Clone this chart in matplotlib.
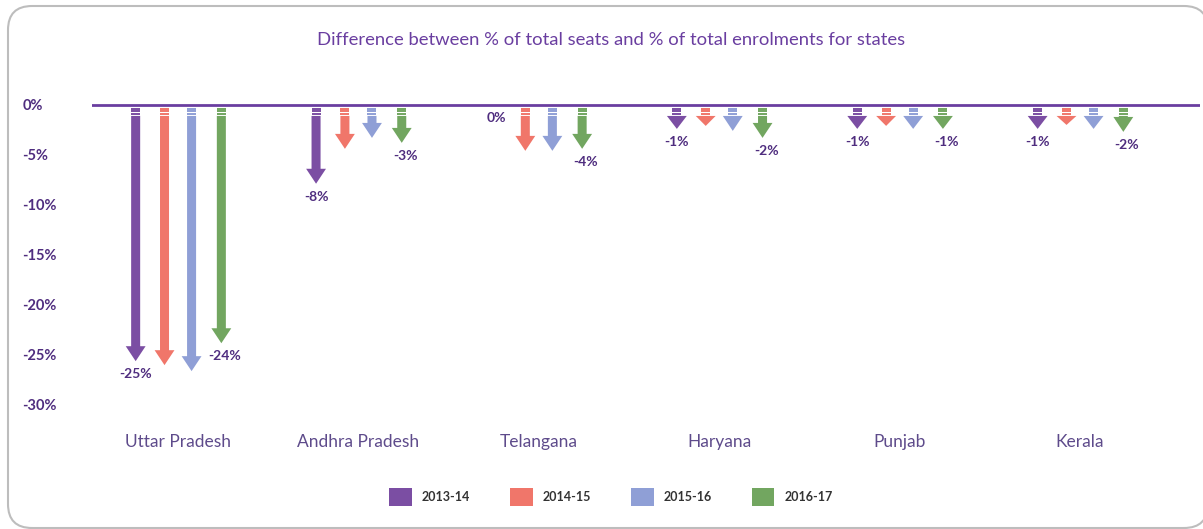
import numpy as np
import matplotlib
matplotlib.use('Agg')
import matplotlib.pyplot as plt
from matplotlib.patches import Patch, FancyBboxPatch

# data (arrow tip positions, in %)
states = ['Uttar Pradesh', 'Andhra Pradesh', 'Telangana', 'Haryana', 'Punjab', 'Kerala']
years = ['2013-14', '2014-15', '2015-16', '2016-17']
v_2013 = [-25.7, -7.9, 0.0, -2.4, -2.4, -2.4]
v_2014 = [-26.1, -4.4, -4.6, -2.1, -2.1, -2.0]
v_2015 = [-26.7, -3.3, -4.6, -2.6, -2.4, -2.4]
v_2016 = [-23.9, -3.8, -4.4, -3.3, -2.4, -2.7]
labels_2013 = ['-25%', '-8%', '0%', '-1%', '-1%', '-1%']
labels_2016 = ['-24%', '-3%', '-4%', '-2%', '-1%', '-2%']

colors = ['#7b4ea3', '#f0766a', '#8f9fd6', '#72a660']
txt_purple = '#4f2d7f'
plt.rcParams['font.family'] = ['Lato', 'DejaVu Sans']

fig = plt.figure(figsize=(12.03, 5.29), dpi=100)
frame = FancyBboxPatch((8 / 1203, 1 / 529), 1200 / 1203, 522 / 529,
                       boxstyle='round,pad=0,rounding_size=0.02',
                       transform=fig.transFigure, fc='white',
                       ec='#bdbdbd', lw=1.5, mutation_aspect=2.27, zorder=-5)
fig.patches.append(frame)
ax = fig.add_axes([92 / 1203, 120 / 529, 1108 / 1203, 310 / 529])
ax.set_facecolor('none')
ax.set_zorder(2)

x = np.arange(len(states))
offsets = [-0.235, -0.075, 0.075, 0.24]
series = [v_2013, v_2014, v_2015, v_2016]

start = -1.1
for vals, off, col in zip(series, offsets, colors):
    for xi, v in zip(x, vals):
        if v >= 0:
            continue
        xc = xi + off
        # striped top
        for s in (-0.4, -0.65, -0.9):
            ax.plot([xc - 0.025, xc + 0.025], [s, s], color=col, lw=1.4,
                    solid_capstyle='butt')
        length = v - start
        hl = min(1.5, -length)
        ax.arrow(xc, start, 0, length, width=0.05, head_width=0.11,
                 head_length=hl, length_includes_head=True, color=col, lw=0)

for xi, v, lab in zip(x, v_2013, labels_2013):
    ax.text(xi + offsets[0], v - 1.3, lab, ha='center', va='center',
            fontsize=10, fontweight='bold', color=txt_purple)
for xi, v, lab in zip(x, v_2016, labels_2016):
    ax.text(xi + offsets[3] + 0.02, v - 1.3, lab, ha='center', va='center',
            fontsize=10, fontweight='bold', color=txt_purple)

ax.axhline(0, color='#6a3ea0', lw=2)
ax.set_xlim(-0.477, 5.665)
ax.set_ylim(-30.5, 0.6)
ax.set_yticks([0, -5, -10, -15, -20, -25, -30])
ax.set_yticklabels(['0%', '-5%', '-10%', '-15%', '-20%', '-25%', '-30%'],
                   ha='left', fontsize=10.5, fontweight='bold', color=txt_purple)
ax.tick_params(axis='y', length=0, pad=50)
ax.set_xticks(x)
ax.set_xticklabels(states, fontsize=12.5, color='#5e4b8b')
ax.tick_params(axis='x', length=0, pad=18)
for sp in ax.spines.values():
    sp.set_visible(False)

fig.text(0.508, 0.925, 'Difference between % of total seats and % of total enrolments for states',
         ha='center', va='center', fontsize=13.3, color='#6a3ea0')

handles = [Patch(fc=c, ec='none') for c in colors]
fig.legend(handles, years, loc='center', bbox_to_anchor=(0.508, 0.06), ncol=4,
           frameon=False, handlelength=1.8, handleheight=1.8,
           handletextpad=0.8, columnspacing=3.2,
           prop={'weight': 'bold', 'size': 9})
for t in fig.legends[0].get_texts():
    t.set_color('#333333')

fig.savefig('out.png', dpi=100, facecolor='white')
